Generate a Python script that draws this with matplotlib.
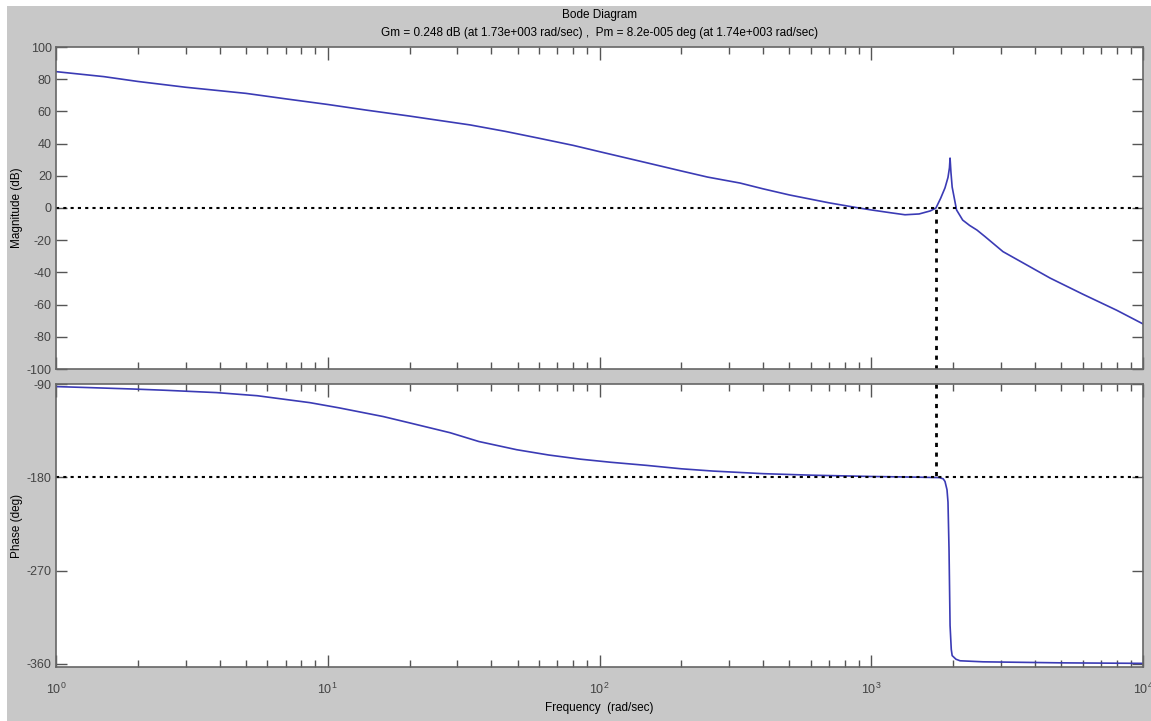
import numpy as np
import matplotlib
matplotlib.use('Agg')
import matplotlib.pyplot as plt
from matplotlib.ticker import LogLocator, FixedLocator, NullFormatter

plt.rcParams['font.family'] = ['Liberation Sans', 'DejaVu Sans']
plt.rcParams['axes.unicode_minus'] = False

# magnitude curve (rad/sec, dB)
mag_w = [1.0, 1.5, 2.0, 3.0, 5.0, 7.0, 10, 14, 20, 25, 33.4, 45, 60, 80, 100,
         150, 200, 250, 329, 400, 500, 700, 887, 1000, 1172, 1331, 1500, 1650,
         1730, 1800, 1868, 1916, 1940, 1950, 1965, 1985, 2060, 2170, 2300, 2449,
         2624, 3053, 3700, 4548, 6000, 8000, 10000]
mag_db = [84.7, 81.6, 78.6, 75.0, 71.2, 67.8, 64.3, 60.7, 57.1, 54.7, 51.6,
          47.6, 43.3, 38.9, 35.0, 28.0, 23.0, 19.2, 15.5, 11.9, 8.1, 3.2, 0.2,
          -1.2, -2.9, -4.2, -3.7, -1.8, 0.0, 6.0, 12.5, 19.0, 25.0, 31.0, 22.0,
          13.0, -1.2, -7.5, -10.8, -13.7, -17.8, -27.1, -35.0, -43.5, -53.5,
          -63.5, -72.0]

# phase curve (rad/sec, deg)
ph_w = [1.0, 1.3, 1.9, 2.5, 3.9, 5.5, 8.6, 11, 16, 20, 28.2, 36, 49.6, 65, 85,
        110, 149, 200, 262, 400, 610, 1000, 1427, 1780, 1840, 1868, 1900, 1916,
        1933, 1950, 1970, 1985, 2050, 2122, 2578, 5000, 10000]
ph_deg = [-92.5, -93.4, -94.8, -96.0, -98.3, -101.3, -108, -113, -121.4,
          -127.5, -137, -145.5, -153.4, -158.5, -162.5, -165.5, -168.5, -171.8,
          -174.0, -176.5, -178, -179.2, -179.8, -180.3, -181.5, -184.0, -192,
          -204, -250, -323, -346, -352, -355.5, -357, -358, -359, -359.5]

w_cross = 1730  # gain margin frequency
mag_ticks = [-100, -80, -60, -40, -20, 0, 20, 40, 60, 80, 100]
ph_ticks = [-360, -270, -180, -90]

title1 = 'Bode Diagram'
title2 = 'Gm = 0.248 dB (at 1.73e+003 rad/sec) ,  Pm = 8.2e-005 deg (at 1.74e+003 rad/sec)'

W, H = 1151, 721
fig = plt.figure(figsize=(W/100, H/100), dpi=100, facecolor='white')
# gray MATLAB figure panel
fig.patches.append(plt.Rectangle((7/W, 0), 1, 1 - 6/H, transform=fig.transFigure,
                                 facecolor='#c8c8c8', edgecolor='none', zorder=-1))

ax1 = fig.add_axes([56/W, 1 - 369/H, (1143-56)/W, (369-47)/H])
ax2 = fig.add_axes([56/W, 1 - 667/H, (1143-56)/W, (667-384)/H])

line_col = '#3b3bb5'
ax1.semilogx(mag_w, mag_db, color=line_col, lw=1.2)
ax2.semilogx(ph_w, ph_deg, color=line_col, lw=1.2)

# margin lines
ax1.axhline(0, color='black', ls=(0, (1.5, 2)), lw=1.5)
ax1.plot([w_cross, w_cross], [-100, 0], color='black', ls=(0, (1.5, 2)), lw=2)
ax2.axhline(-180, color='black', ls=(0, (1.5, 2)), lw=1.5)
ax2.plot([w_cross, w_cross], [-90, -180], color='black', ls=(0, (1.5, 2)), lw=2)

ax1.set_ylim(-100, 100)
ax2.set_ylim(-363, -90)
ax1.yaxis.set_major_locator(FixedLocator(mag_ticks))
ax2.yaxis.set_major_locator(FixedLocator(ph_ticks))

for ax in (ax1, ax2):
    ax.set_xlim(1, 1e4)
    ax.xaxis.set_major_locator(LogLocator(base=10, numticks=10))
    ax.xaxis.set_minor_locator(LogLocator(base=10, subs=np.arange(2, 10), numticks=20))
    ax.xaxis.set_minor_formatter(NullFormatter())
    ax.tick_params(which='both', direction='in', top=True, right=True,
                   color='#555555', labelcolor='#444444', labelsize=9, width=1)
    ax.tick_params(which='major', length=9)
    ax.tick_params(which='minor', length=5)
    ax.tick_params(axis='y', which='major', length=8, pad=3)
    for s in ax.spines.values():
        s.set_color('#666666')
        s.set_linewidth(1.2)

ax1.tick_params(axis='x', labelbottom=False)
ax2.tick_params(axis='x', pad=11)

ax1.set_ylabel('Magnitude (dB)', fontsize=8.5, labelpad=3)
ax2.set_ylabel('Phase (deg)', fontsize=8.5, labelpad=3)
ax2.set_xlabel('Frequency  (rad/sec)', fontsize=8.5, labelpad=3)

fig.text(600/W, 1 - 15/H, title1, ha='center', va='center', fontsize=8.5)
fig.text(600/W, 1 - 33/H, title2, ha='center', va='center', fontsize=8.5)

fig.savefig('out.png', dpi=100, facecolor=fig.get_facecolor())
